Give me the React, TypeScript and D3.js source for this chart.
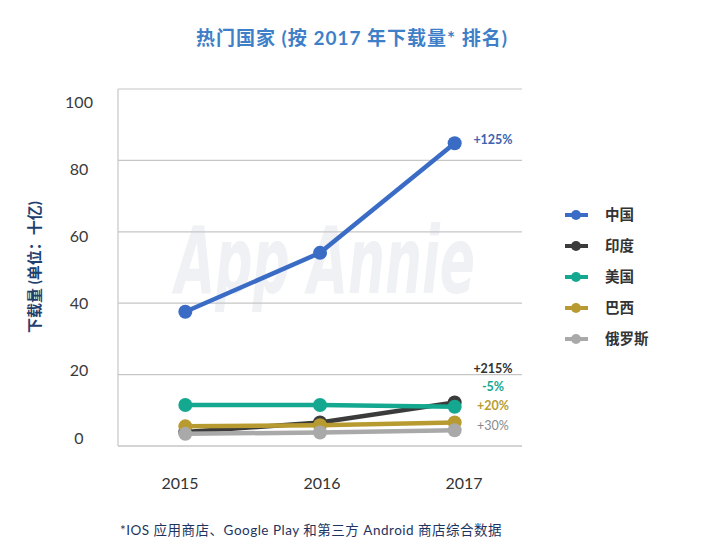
import React from "react";
import * as d3 from "d3";

const years = ["2015", "2016", "2017"];
const countries = ["中国", "印度", "美国", "巴西", "俄罗斯"];
const china = [37.6, 54.1, 84.8];
const india = [3.9, 6.6, 12.2];
const usa = [11.5, 11.5, 11.0];
const brazil = [5.5, 5.8, 6.6];
const russia = [3.4, 3.8, 4.4];
const growth = ["+125%", "+215%", "-5%", "+20%", "+30%"];
const yTicks = [0, 20, 40, 60, 80, 100];

const W = 705;
const H = 551;
const FONT = "Lato, 'Noto Sans CJK SC', sans-serif";

const colors = ["#3a6cc6", "#3b3b3b", "#15a891", "#b89b30", "#a9a9a9"];
const labelColors = ["#3d63b0", "#333333", "#15a891", "#b99d33", "#8a8a8a"];

export default function App() {
  const left = 118;
  const right = 522;
  const top = 89;
  const bottom = 446;

  const x = d3.scalePoint<string>().domain(years).range([left, right]).padding(0.5);
  const y = d3.scaleLinear().domain([0, 100]).range([bottom, top]);
  // tick labels sit slightly off the gridlines in the original
  const yLabel = d3.scaleLinear().domain([0, 100]).range([438, 102]);
  const xLabel = d3.scalePoint<string>().domain(years).range([180, 464]);

  const series = [
    { name: countries[0], values: china, color: colors[0], label: growth[0], lc: labelColors[0] },
    { name: countries[1], values: india, color: colors[1], label: growth[1], lc: labelColors[1] },
    { name: countries[2], values: usa, color: colors[2], label: growth[2], lc: labelColors[2] },
    { name: countries[3], values: brazil, color: colors[3], label: growth[3], lc: labelColors[3] },
    { name: countries[4], values: russia, color: colors[4], label: growth[4], lc: labelColors[4] },
  ];
  // drawing order: India, Brazil, Russia, USA, China
  const drawOrder = [1, 3, 4, 2, 0];

  const line = d3
    .line<number>()
    .x((_, i) => x(years[i]) as number)
    .y((d) => y(d));

  // growth labels positions (stacked in the original)
  const labelY = [140, 369, 387, 406, 426];

  return (
    <svg width={W} height={H} style={{ display: "block", margin: -8, fontFamily: FONT }}>
      <rect width={W} height={H} fill="#ffffff" />

      {/* 标题 */}
      <text
        x={352}
        y={45}
        textAnchor="middle"
        style={{ fontSize: 19, fontWeight: 700, fill: "#3f7fc8", letterSpacing: 1 }}
      >
        热门国家 (按 2017 年下载量* 排名)
      </text>

      {/* 水印 */}
      <text
        x={175}
        y={293}
        textLength={300}
        lengthAdjust="spacingAndGlyphs"
        style={{ fontSize: 92, fontStyle: "italic", fontWeight: 700, fill: "#f0f1f5", fontFamily: "'DejaVu Sans', sans-serif" }}
      >
        App Annie
      </text>

      {/* 网格线 */}
      {yTicks.map((t) => (
        <line
          key={t}
          x1={left}
          x2={right}
          y1={y(t)}
          y2={y(t)}
          stroke={t === 0 ? "#d4d4d4" : "#c6c6c6"}
          strokeWidth={t === 0 ? 2 : 1.2}
        />
      ))}
      <line x1={left} x2={left} y1={top} y2={bottom} stroke="#c6c6c6" strokeWidth={1.2} />

      {/* Y 轴刻度 */}
      {yTicks.map((t) => (
        <text
          key={t}
          x={79}
          y={yLabel(t)}
          dy="0.35em"
          textAnchor="middle"
          style={{ fontSize: 16, fill: "#3a3a3a" }}
        >
          {t}
        </text>
      ))}

      <text
        transform={`translate(40,267) rotate(-90)`}
        textAnchor="middle"
        style={{ fontSize: 15, fontWeight: 700, fill: "#1f3f6e" }}
      >
        下载量 (单位：十亿)
      </text>

      {/* X 轴标签 */}
      {years.map((yr) => (
        <text
          key={yr}
          x={xLabel(yr)}
          y={483}
          dy="0.35em"
          textAnchor="middle"
          style={{ fontSize: 16, fill: "#333333" }}
        >
          {yr}
        </text>
      ))}

      {/* 折线 */}
      {drawOrder.map((i) => {
        const s = series[i];
        return (
          <g key={s.name}>
            <path d={line(s.values) || ""} fill="none" stroke={s.color} strokeWidth={4.5} />
            {s.values.map((v, j) => (
              <circle key={j} cx={x(years[j])} cy={y(v)} r={7} fill={s.color} />
            ))}
          </g>
        );
      })}

      {/* 增长率 */}
      {series.map((s, i) => (
        <text
          key={s.name}
          x={493}
          y={labelY[i]}
          dy="0.35em"
          textAnchor="middle"
          style={{ fontSize: 12.5, fontWeight: i === 4 ? 400 : 700, fill: s.lc }}
        >
          {s.label}
        </text>
      ))}

      {/* 图例 */}
      {series.map((s, i) => {
        const ly = 215 + i * 31;
        return (
          <g key={s.name}>
            <line x1={565} x2={588} y1={ly} y2={ly} stroke={s.color} strokeWidth={4} />
            <circle cx={576} cy={ly} r={5} fill={s.color} />
            <text x={605} y={ly + 5} style={{ fontSize: 14.5, fontWeight: 700, fill: "#333333" }}>
              {s.name}
            </text>
          </g>
        );
      })}

      {/* 脚注 */}
      <text x={120} y={535} style={{ fontSize: 13.5, fill: "#1d3461", letterSpacing: 0.5 }}>
        *IOS 应用商店、Google Play 和第三方 Android 商店综合数据
      </text>
    </svg>
  );
}
